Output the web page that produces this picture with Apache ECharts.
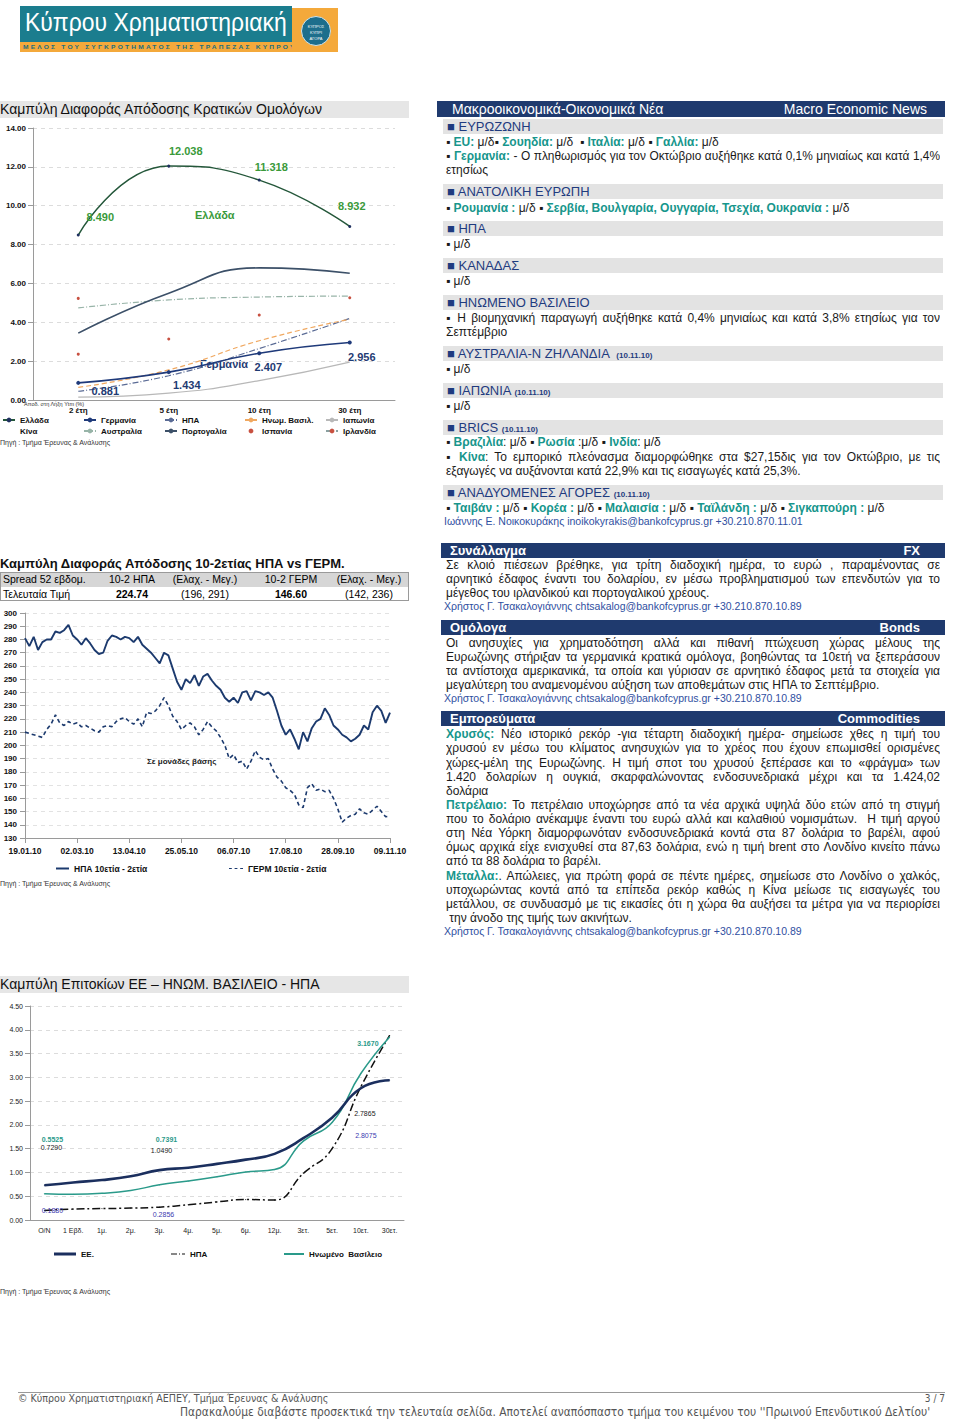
<!DOCTYPE html>
<html><head><meta charset="utf-8">
<script src="https://cdn.jsdelivr.net/npm/echarts/dist/echarts.min.js"></script>
<style>
body{margin:0;background:#fff;font-family:'Liberation Sans',Arial,sans-serif;}
#page{position:relative;width:960px;height:1420px;overflow:hidden;background:#fff;}
.a{position:absolute;white-space:nowrap;}
.gbar{position:absolute;left:443px;width:500px;height:15px;background:#e3e3e3;color:#1f3b7f;font-size:13px;line-height:15px;padding-left:4px;box-sizing:border-box;white-space:nowrap;}
.gbar small{font-size:8px;font-weight:bold;}
.nbar{position:absolute;left:441px;width:504px;height:15px;background:#1f3a6e;color:#fff;font-size:13px;font-weight:bold;line-height:15px;box-sizing:border-box;padding:0 25px 0 9px;}
.nbar span.r{float:right;}
.ln{position:absolute;left:446px;width:494px;font-size:12px;line-height:14px;height:14px;color:#1a1a1a;white-space:nowrap;}
.j{white-space:normal;text-align:justify;text-align-last:justify;overflow:hidden;}
.t{color:#17968c;font-weight:bold;}
.tb{color:#17968c;font-weight:bold;}
.au{position:absolute;left:444px;font-size:10.5px;line-height:12px;color:#2f4f9f;white-space:nowrap;}
.src{position:absolute;left:0;font-size:7px;color:#333;white-space:nowrap;}
.ttl{position:absolute;left:0;width:409px;height:17px;background:#e6e6e6;font-size:14px;line-height:17px;color:#111;white-space:nowrap;}
.cell{position:absolute;font-size:10.5px;line-height:14px;white-space:nowrap;transform:translateX(-50%);}
.nar{font-family:'Liberation Sans Narrow','DejaVu Sans Condensed',sans-serif;color:#555;}
</style></head>
<body><div id="page">

<!-- logo -->
<div class="a" style="left:20px;top:6px;width:272px;height:36px;background:#1b7d8e;"></div>
<div id="logoTxt" class="a" style="left:25px;top:7px;font-size:26px;line-height:31px;color:#fff;">Κύπρου Χρηματιστηριακή</div>
<div class="a" style="left:20px;top:42px;width:280px;height:10px;background:#f4a93b;"></div>
<div id="logoSub" class="a" style="left:23px;top:43px;font-size:6px;line-height:8px;color:#1b6d7e;letter-spacing:2px;font-weight:bold;">ΜΕΛΟΣ ΤΟΥ ΣΥΓΚΡΟΤΗΜΑΤΟΣ ΤΗΣ ΤΡΑΠΕΖΑΣ ΚΥΠΡΟΥ</div>
<div class="a" style="left:292px;top:8px;width:46px;height:44px;background:#f4a93b;"></div>
<div class="a" style="left:301px;top:16px;width:28px;height:28px;border-radius:50%;background:#1d6e8c;border:1px solid #cfe3ea;color:#fff;font-size:4px;line-height:6px;text-align:center;"><div style="margin-top:7px">ΚΥΠΡΟΣ</div><div>ΚΥΠΡΙ</div><div>ΑΓΟΡΑ</div></div>

<!-- Left column -->
<div class="ttl" style="top:101px;">Καμπύλη Διαφοράς Απόδοσης Κρατικών Ομολόγων</div>
<div id="c1" class="a" style="left:0;top:118px;width:410px;height:318px;"></div>
<div class="src" style="top:439px;">Πηγή : Τμήμα Έρευνας &amp; Ανάλυσης</div>

<div class="a" style="left:0;top:556px;font-size:13px;font-weight:bold;line-height:16px;color:#111;">Καμπύλη Διαφοράς Απόδοσης 10-2ετίας ΗΠΑ vs ΓΕΡΜ.</div>
<div class="a" style="left:0;top:572px;width:407px;height:14px;background:#d6d6d6;border:1px solid #9a9a9a;"></div>
<div class="a" style="left:0;top:587px;width:407px;height:13px;background:#fff;border:1px solid #9a9a9a;border-top:none;"></div>
<div class="a" style="left:3px;top:572px;font-size:10.5px;line-height:15px;">Spread 52 εβδομ.</div>
<div class="cell" style="left:132px;top:572px;line-height:15px;">10-2 ΗΠΑ</div>
<div class="cell" style="left:205px;top:572px;line-height:15px;">(Ελαχ. - Μεγ.)</div>
<div class="cell" style="left:291px;top:572px;line-height:15px;">10-2 ΓΕΡΜ</div>
<div class="cell" style="left:369px;top:572px;line-height:15px;">(Ελαχ. - Μεγ.)</div>
<div class="a" style="left:3px;top:587px;font-size:10.5px;line-height:14px;">Τελευταία Τιμή</div>
<div class="cell" style="left:132px;top:587px;font-weight:bold;">224.74</div>
<div class="cell" style="left:205px;top:587px;">(196, 291)</div>
<div class="cell" style="left:291px;top:587px;font-weight:bold;">146.60</div>
<div class="cell" style="left:369px;top:587px;">(142, 236)</div>
<div id="c2" class="a" style="left:0;top:603px;width:410px;height:272px;"></div>
<div class="src" style="top:880px;">Πηγή : Τμήμα Έρευνας &amp; Ανάλυσης</div>

<div class="ttl" style="top:976px;">Καμπύλη Επιτοκίων ΕΕ – ΗΝΩΜ. ΒΑΣΙΛΕΙΟ - ΗΠΑ</div>
<div id="c3" class="a" style="left:0;top:995px;width:410px;height:270px;"></div>
<div class="src" style="top:1288px;">Πηγή : Τμήμα Έρευνας &amp; Ανάλυσης</div>

<!-- Right column: macro news -->
<div class="a" style="left:437px;top:101px;width:508px;height:16px;background:#1f3a6e;color:#fff;font-size:14px;line-height:16px;box-sizing:border-box;padding:0 18px 0 15px;"><span>Μακροοικονομικά-Οικονομικά Νέα</span><span style="float:right">Macro Economic News</span></div>
<div class="gbar" style="top:119px;">■ ΕΥΡΩΖΩΝΗ</div>
<div class="ln" style="top:135px;">▪ <span class="tb">EU:</span> μ/δ▪ <span class="tb">Σουηδία:</span> μ/δ &nbsp;▪ <span class="tb">Ιταλία:</span> μ/δ ▪ <span class="tb">Γαλλία:</span> μ/δ</div>
<div class="ln j" style="top:149px;">▪ <span class="tb">Γερμανία:</span> - Ο πληθωρισμός για τον Οκτώβριο αυξήθηκε κατά 0,1% μηνιαίως και κατά 1,4%</div>
<div class="ln" style="top:163px;">ετησίως</div>
<div class="gbar" style="top:184px;">■ ΑΝΑΤΟΛΙΚΗ ΕΥΡΩΠΗ</div>
<div class="ln" style="top:201px;">▪ <span class="tb">Ρουμανία :</span> μ/δ ▪ <span class="tb">Σερβία, Βουλγαρία, Ουγγαρία, Τσεχία, Ουκρανία :</span> μ/δ</div>
<div class="gbar" style="top:221px;">■ ΗΠΑ</div>
<div class="ln" style="top:237px;">▪ μ/δ</div>
<div class="gbar" style="top:258px;">■ ΚΑΝΑΔΑΣ</div>
<div class="ln" style="top:274px;">▪ μ/δ</div>
<div class="gbar" style="top:295px;">■ ΗΝΩΜΕΝΟ ΒΑΣΙΛΕΙΟ</div>
<div class="ln j" style="top:311px;">▪ Η βιομηχανική παραγωγή αυξήθηκε κατά 0,4% μηνιαίως και κατά 3,8% ετησίως για τον</div>
<div class="ln" style="top:325px;">Σεπτέμβριο</div>
<div class="gbar" style="top:346px;">■ ΑΥΣΤΡΑΛΙΑ-Ν ΖΗΛΑΝΔΙΑ &nbsp;<small>(10.11.10)</small></div>
<div class="ln" style="top:362px;">▪ μ/δ</div>
<div class="gbar" style="top:383px;">■ ΙΑΠΩΝΙΑ <small>(10.11.10)</small></div>
<div class="ln" style="top:399px;">▪ μ/δ</div>
<div class="gbar" style="top:420px;">■ BRICS <small>(10.11.10)</small></div>
<div class="ln" style="top:435px;">▪ <span class="tb">Βραζιλία</span>: μ/δ ▪ <span class="tb">Ρωσία</span> :μ/δ ▪ <span class="tb">Ινδία</span>: μ/δ</div>
<div class="ln j" style="top:450px;">▪ <span class="tb">Κίνα</span>: Το εμπορικό πλεόνασμα διαμορφώθηκε στα $27,15δις για τον Οκτώβριο, με τις</div>
<div class="ln" style="top:464px;">εξαγωγές να αυξάνονται κατά 22,9% και τις εισαγωγές κατά 25,3%.</div>
<div class="gbar" style="top:485px;">■ ΑΝΑΔΥΟΜΕΝΕΣ ΑΓΟΡΕΣ <small>(10.11.10)</small></div>
<div class="ln" style="top:501px;">▪ <span class="tb">Ταιβάν :</span> μ/δ ▪ <span class="tb">Κορέα :</span> μ/δ ▪ <span class="tb">Μαλαισία :</span> μ/δ ▪ <span class="tb">Ταϊλάνδη :</span> μ/δ ▪ <span class="tb">Σιγκαπούρη :</span> μ/δ</div>
<div class="au" style="top:515px;">Ιωάννης Ε. Νοικοκυράκης inoikokyrakis@bankofcyprus.gr +30.210.870.11.01</div>

<!-- FX -->
<div class="nbar" style="top:543px;">Συνάλλαγμα<span class="r">FX</span></div>
<div class="ln j" style="top:558px;">Σε κλοιό πιέσεων βρέθηκε, για τρίτη διαδοχική ημέρα, το ευρώ , παραμένοντας σε</div>
<div class="ln j" style="top:572px;">αρνητικό έδαφος έναντι του δολαρίου, εν μέσω προβληματισμού των επενδυτών για το</div>
<div class="ln" style="top:586px;">μέγεθος του ιρλανδικού και πορτογαλικού χρέους.</div>
<div class="au" style="top:600px;">Χρήστος Γ. Τσακαλογιάννης chtsakalog@bankofcyprus.gr +30.210.870.10.89</div>

<!-- Bonds -->
<div class="nbar" style="top:620px;">Ομόλογα<span class="r">Bonds</span></div>
<div class="ln j" style="top:636px;">Οι ανησυχίες για χρηματοδότηση αλλά και πιθανή πτώχευση χώρας μέλους της</div>
<div class="ln j" style="top:650px;">Ευρωζώνης στήριξαν τα γερμανικά κρατικά ομόλογα, βοηθώντας τα 10ετή να ξεπεράσουν</div>
<div class="ln j" style="top:664px;">τα αντίστοιχα αμερικανικά, τα οποία και γύρισαν σε αρνητικό έδαφος μετά τα στοιχεία για</div>
<div class="ln" style="top:678px;">μεγαλύτερη του αναμενομένου αύξηση των αποθεμάτων στις ΗΠΑ το Σεπτέμβριο.</div>
<div class="au" style="top:692px;">Χρήστος Γ. Τσακαλογιάννης chtsakalog@bankofcyprus.gr +30.210.870.10.89</div>

<!-- Commodities -->
<div class="nbar" style="top:711px;">Εμπορεύματα<span class="r">Commodities</span></div>
<div class="ln j" style="top:727px;"><span class="t">Χρυσός:</span> Νέο ιστορικό ρεκόρ -για τέταρτη διαδοχική ημέρα- σημείωσε χθες η τιμή του</div>
<div class="ln j" style="top:741px;">χρυσού εν μέσω του κλίματος ανησυχιών για το χρέος που έχουν επωμισθεί ορισμένες</div>
<div class="ln j" style="top:756px;">χώρες-μέλη της Ευρωζώνης. Η τιμή σποτ του χρυσού ξεπέρασε και το «φράγμα» των</div>
<div class="ln j" style="top:770px;">1.420 δολαρίων η ουγκιά, σκαρφαλώνοντας ενδοσυνεδριακά μέχρι και τα 1.424,02</div>
<div class="ln" style="top:784px;">δολάρια</div>
<div class="ln j" style="top:798px;"><span class="t">Πετρέλαιο:</span> Το πετρέλαιο υποχώρησε από τα νέα αρχικά υψηλά δύο ετών από τη στιγμή</div>
<div class="ln j" style="top:812px;">που το δολάριο ανέκαμψε έναντι του ευρώ αλλά και καλαθιού νομισμάτων. &nbsp;Η τιμή αργού</div>
<div class="ln j" style="top:826px;">στη Νέα Υόρκη διαμορφωνόταν ενδοσυνεδριακά κοντά στα 87 δολάρια το βαρέλι, αφού</div>
<div class="ln j" style="top:840px;">όμως αρχικά είχε ενισχυθεί στα 87,63 δολάρια, ενώ η τιμή brent στο Λονδίνο κινείτο πάνω</div>
<div class="ln" style="top:854px;">από τα 88 δολάρια το βαρέλι.</div>
<div class="ln j" style="top:869px;"><span class="t">Μέταλλα:</span>. Απώλειες, για πρώτη φορά σε πέντε ημέρες, σημείωσε στο Λονδίνο ο χαλκός,</div>
<div class="ln j" style="top:883px;">υποχωρώντας κοντά από τα επίπεδα ρεκόρ καθώς η Κίνα μείωσε τις εισαγωγές του</div>
<div class="ln j" style="top:897px;">μετάλλου, σε συνδυασμό με τις εικασίες ότι η χώρα θα αυξήσει τα μέτρα για να περιορίσει</div>
<div class="ln" style="top:911px;">&nbsp;την άνοδο της τιμής των ακινήτων.</div>
<div class="au" style="top:925px;">Χρήστος Γ. Τσακαλογιάννης chtsakalog@bankofcyprus.gr +30.210.870.10.89</div>

<!-- footer -->
<div class="a" style="left:18px;top:1392px;width:927px;height:1px;background:#999;"></div>
<div id="foot1" class="a nar" style="left:18px;top:1393px;font-size:10px;line-height:12px;">© Κύπρου Χρηματιστηριακή ΑΕΠΕΥ, Τμήμα Έρευνας &amp; Ανάλυσης</div>
<div class="a nar" style="left:920px;top:1393px;width:25px;text-align:right;font-size:10px;line-height:12px;">3 / 7</div>
<div id="foot2" class="a nar" style="left:180px;top:1405px;font-size:12.5px;line-height:14px;">Παρακαλούμε διαβάστε προσεκτικά την τελευταία σελίδα. Αποτελεί αναπόσπαστο τμήμα του κειμένου του ''Πρωινού Επενδυτικού Δελτίου'</div>

</div>
<script>
// ---------- Chart 1: government bond yield curves ----------
const c1Categories = ['2 έτη', '5 έτη', '10 έτη', '30 έτη'];
const c1Greece    = [8.490, 12.038, 11.318, 8.932];
const c1Germany   = [0.881, 1.434, 2.407, 2.956];
const c1USA       = [0.45, 1.25, 2.65, 4.20];
const c1UK        = [0.65, 1.55, 3.05, 4.16];
const c1Japan     = [0.15, 0.35, 1.00, 1.95];
const c1China     = [null, null, null, null];
const c1Australia = [4.74, 5.15, 5.30, 5.35];
const c1Portugal  = [3.44, 5.50, 6.80, 6.52];
const c1Spain     = [2.36, 3.14, 4.37, 5.26];
const c1Ireland   = [5.23, null, null, null];
const c1LegendNames = ['Ελλάδα', 'Γερμανία', 'ΗΠΑ', 'Ηνωμ. Βασιλ.', 'Ιαπωνία',
                       'Κίνα', 'Αυστραλία', 'Πορτογαλία', 'Ισπανία', 'Ιρλανδία'];

// ---------- Chart 2: 10y-2y spread USA vs Germany ----------
const c2Dates = ['19.01.10','22.01.10','26.01.10','29.01.10',
 '02.02.10','05.02.10','09.02.10','12.02.10','16.02.10','19.02.10','23.02.10','26.02.10',
 '02.03.10','05.03.10','09.03.10','12.03.10','16.03.10','19.03.10','23.03.10','26.03.10','30.03.10',
 '02.04.10','06.04.10','09.04.10','13.04.10','16.04.10','20.04.10','23.04.10','27.04.10','30.04.10',
 '04.05.10','07.05.10','11.05.10','14.05.10','18.05.10','21.05.10','25.05.10','28.05.10',
 '01.06.10','04.06.10','08.06.10','11.06.10','15.06.10','18.06.10','22.06.10','25.06.10','29.06.10',
 '02.07.10','06.07.10','09.07.10','13.07.10','16.07.10','20.07.10','23.07.10','27.07.10','30.07.10',
 '03.08.10','06.08.10','10.08.10','13.08.10','17.08.10','20.08.10','24.08.10','27.08.10','31.08.10',
 '03.09.10','07.09.10','10.09.10','14.09.10','17.09.10','21.09.10','24.09.10','28.09.10',
 '01.10.10','05.10.10','08.10.10','12.10.10','15.10.10','19.10.10','22.10.10','26.10.10','29.10.10',
 '02.11.10','05.11.10','09.11.10'];
const c2USA = [281,275,282,272,278,280,280,286,285,287,
 291,283,280,276,281,277,272,269,270,279,
 283,282,280,282,281,278,282,276,273,270,
 266,262,270,268,258,248,242,250,247,253,
 245,252,254,249,245,242,236,233,236,232,
 240,241,234,241,240,238,240,236,226,215,
 208,212,205,197,210,203,213,218,220,228,
 223,215,212,208,206,203,205,208,215,212,
 225,230,226,217,224.74];
const c2GER = [210,209,208,207,206,212,216,223,217,215,
 218,216,217,214,215,213,211,210,214,215,
 214,218,220,221,218,216,220,214,225,224,
 226,230,236,230,222,218,212,215,217,214,
 208,212,218,214,211,206,200,190,193,187,
 188,182,188,196,191,189,190,182,176,173,
 168,166,163,155,153,168,171,166,167,165,
 166,160,152,142,145,147,148,152,149,148,
 151,154,150,146,146.60];
const c2Names = ['ΗΠΑ 10ετία - 2ετία', 'ΓΕΡΜ 10ετία - 2ετία'];

// ---------- Chart 3: money market / yield curves EU-UK-US ----------
const c3Categories = ['O/N','1 Εβδ.','1μ.','2μ.','3μ.','4μ.','5μ.','6μ.','12μ.','3ετ.','5ετ.','10ετ.','30ετ.'];
const c3EU = [0.729, 0.79, 0.84, 0.92, 1.049, 1.10, 1.18, 1.27, 1.39, 1.72, 2.15, 2.77, 2.94];
const c3US = [0.20, 0.23, 0.24, 0.25, 0.27, 0.32, 0.38, 0.43, 0.42, 0.98, 1.50, 2.80, 3.88];
const c3UK = [0.5525, 0.54, 0.56, 0.62, 0.7391, 0.82, 0.91, 1.01, 1.06, 1.66, 2.05, 3.08, 3.85];
const c3Names = ['ΕΕ.', 'ΗΠΑ', 'Ηνωμένο  Βασίλειο'];
const c3NotesEU = {0: '0.7290', 4: '1.0490', 11: '2.7865'};
const c3NotesUS = {0: '0.1880', 4: '0.2856', 11: '2.8075'};
const c3NotesUK = {0: '0.5525', 4: '0.7391', 11: '3.1670'};

const FF = "'Liberation Sans', Arial, sans-serif";

// fit helpers for page text
function fitX(id, w) {
  const el = document.getElementById(id);
  const s = w / el.offsetWidth;
  el.style.transformOrigin = '0 0';
  el.style.transform = 'scaleX(' + s + ')';
}
fitX('logoTxt', 262);
fitX('logoSub', 274);
fitX('foot2', 750);
fitX('foot1', 310);
document.querySelectorAll('.ln.j').forEach(el => {
  let fs = 12;
  while (el.scrollHeight > 16 && fs > 9) { fs -= 0.1; el.style.fontSize = fs + 'px'; }
});

// ===== Chart 1 =====
(function(){
  const ch = echarts.init(document.getElementById('c1'), null, {renderer: 'svg'});
  const grOff = [[22,-18],[17,-15],[12,-13],[2,-20]];
  const deOff = [[27,8],[18,13],[9,14],[12,14]];
  const withLabels = (vals, offs, color) => vals.map((v,i) => ({value: v, label: {show: true, position: 'inside', offset: offs[i], formatter: p => p.value.toFixed(3), color: color, fontSize: 11, fontWeight: 'bold', fontFamily: FF}}));
  const lg = {fontSize: 8, fontWeight: 'bold', color: '#111', fontFamily: FF};
  const colLeft = [2, 83, 164, 244, 325];
  const legends = c1LegendNames.map((n, i) => ({
    data: [n], left: colLeft[i % 5], top: i < 5 ? 298 : 309, itemWidth: 12, itemHeight: 6,
    selectedMode: false, textStyle: lg, padding: 0
  }));
  const line = (name, data, color, type, width, extra) => Object.assign({
    name, type: 'line', data, smooth: true, showSymbol: false, symbol: 'none',
    lineStyle: {color, type, width}, itemStyle: {color}, z: 2
  }, extra || {});
  ch.setOption({
    animation: false,
    textStyle: {fontFamily: FF},
    grid: {left: 33, right: 15, top: 10, height: 272},
    legend: legends,
    xAxis: {type: 'category', data: c1Categories,
      axisLine: {lineStyle: {color: '#9a9a9a'}}, axisTick: {lineStyle: {color: '#9a9a9a'}},
      axisLabel: {fontSize: 8, fontWeight: 'bold', color: '#111', margin: 6}},
    yAxis: {type: 'value', min: 0, max: 14, interval: 2,
      axisLine: {show: true, lineStyle: {color: '#9a9a9a'}}, axisTick: {show: true, lineStyle: {color: '#9a9a9a'}},
      axisLabel: {formatter: v => v.toFixed(2), fontSize: 8, fontWeight: 'bold', color: '#111', margin: 7},
      splitLine: {lineStyle: {color: '#dcdcdc', type: [4, 4]}}},
    graphic: [
      {type: 'text', left: 195, top: 91, style: {text: 'Ελλάδα', fill: '#3a9a3a', font: "bold 11px 'Liberation Sans'"}},
      {type: 'text', left: 200, top: 240, style: {text: 'Γερμανία', fill: '#1f3b73', font: "bold 11px 'Liberation Sans'"}},
      {type: 'text', left: 24, top: 283, style: {text: 'Αποδ. στη Λήξη Ytm (%)', fill: '#333', font: "5.5px 'Liberation Sans'"}}
    ],
    series: [
      line('Ελλάδα', withLabels(c1Greece, grOff, '#3a9a3a'), '#24573a', 'solid', 1.5, {showSymbol: true, symbol: 'circle', symbolSize: 3, itemStyle: {color: '#1f3060'}, z: 5}),
      line('Γερμανία', withLabels(c1Germany, deOff, '#1f3b73'), '#1f3a7a', 'solid', 1.6, {showSymbol: true, symbol: 'circle', symbolSize: 4, itemStyle: {color: '#1f3a7a'}, z: 5}),
      line('ΗΠΑ', c1USA, '#5a6b95', [6, 2, 1, 2], 1.2),
      line('Ηνωμ. Βασιλ.', c1UK, '#f0a860', [5, 3], 1.2),
      line('Ιαπωνία', c1Japan, '#b8b8b8', 'solid', 1.2),
      line('Κίνα', c1China, 'rgba(0,0,0,0)', 'solid', 1),
      line('Αυστραλία', c1Australia, '#98b4a8', [6, 2, 1, 2], 1.2),
      line('Πορτογαλία', c1Portugal, '#3c5068', 'solid', 1.6),
      {name: 'Ισπανία', type: 'line', data: c1Spain, showSymbol: true, symbol: 'circle', symbolSize: 3,
        itemStyle: {color: '#c85040'}, lineStyle: {opacity: 0, color: '#c85040'}},
      {name: 'Ιρλανδία', type: 'line', data: c1Ireland, showSymbol: true, symbol: 'circle', symbolSize: 3,
        itemStyle: {color: '#c85040'}, lineStyle: {color: '#8aa0a0', type: [5, 2, 1, 2], width: 1.2}}
    ]
  });
})();

// ===== Chart 2 =====
(function(){
  const ch = echarts.init(document.getElementById('c2'), null, {renderer: 'svg'});
  const lg = {fontSize: 8.5, fontWeight: 'bold', color: '#111', fontFamily: FF};
  ch.setOption({
    animation: false,
    textStyle: {fontFamily: FF},
    grid: {left: 25, right: 20, top: 10, height: 225},
    legend: [
      {data: [{name: c2Names[0], icon: 'rect'}], left: 51, top: 256, itemWidth: 13, itemHeight: 2, selectedMode: false, textStyle: lg},
      {data: [{name: c2Names[1], icon: 'path://M0,0h3v1h-3z M6,0h3v1h-3z M12,0h3v1h-3z'}], left: 224, top: 256, itemWidth: 14, itemHeight: 2, selectedMode: false, textStyle: lg}
    ],
    xAxis: {type: 'category', data: c2Dates, boundaryGap: false,
      axisLine: {lineStyle: {color: '#9a9a9a'}},
      axisTick: {interval: 11, lineStyle: {color: '#9a9a9a'}},
      axisLabel: {interval: 11, fontSize: 8.5, fontWeight: 'bold', color: '#111', margin: 8}},
    yAxis: {type: 'value', min: 130, max: 300, interval: 10,
      axisLine: {show: true, lineStyle: {color: '#9a9a9a'}}, axisTick: {show: true, lineStyle: {color: '#9a9a9a'}},
      axisLabel: {fontSize: 8, fontWeight: 'bold', color: '#111', margin: 8},
      splitLine: {lineStyle: {color: '#e2e2e2', type: [4, 4]}}},
    graphic: [
      {type: 'text', left: 147, top: 154, style: {text: 'Σε μονάδες βάσης', fill: '#222', font: "bold 8px 'Liberation Sans'"}}
    ],
    series: [
      {name: c2Names[0], type: 'line', data: c2USA, showSymbol: false, symbol: 'none',
        lineStyle: {color: '#1c3a6e', width: 1.9}, itemStyle: {color: '#1c3a6e'}},
      {name: c2Names[1], type: 'line', data: c2GER, showSymbol: false, symbol: 'none',
        lineStyle: {color: '#1c3a6e', width: 1.6, type: [4, 3]}, itemStyle: {color: '#1c3a6e'}}
    ]
  });
})();

// ===== Chart 3 =====
(function(){
  const ch = echarts.init(document.getElementById('c3'), null, {renderer: 'svg'});
  const lg = {fontSize: 8, fontWeight: 'bold', color: '#111', fontFamily: FF};
  const offEU = {0: [7,-38], 4: [2,-20], 11: [4,25]};
  const offUS = {0: [8,0], 4: [4,7], 11: [5,49]};
  const offUK = {0: [8,-54], 4: [7,-45], 11: [7,-30]};
  const noted = (vals, notes, offs, color, bold) => vals.map((v,i) => notes[i] ? {value: v, label: {show: true, position: 'inside', offset: offs[i], formatter: notes[i], color: color, fontSize: 7, fontWeight: bold ? 'bold' : 'normal', fontFamily: FF}} : v);
  ch.setOption({
    animation: false,
    textStyle: {fontFamily: FF},
    grid: {left: 30, width: 374, top: 11, height: 214},
    legend: [
      {data: [{name: c3Names[0], icon: 'rect'}], left: 49, top: 250, itemWidth: 22, itemHeight: 3, selectedMode: false, textStyle: lg},
      {data: [{name: c3Names[1], icon: 'path://M0,0h6v1h-6z M8,0h1v1h-1z M11,0h3v1h-3z'}], left: 166, top: 250, itemWidth: 14, itemHeight: 2, selectedMode: false, textStyle: lg},
      {data: [{name: c3Names[2], icon: 'rect'}], left: 279, top: 250, itemWidth: 20, itemHeight: 2, selectedMode: false, textStyle: lg}
    ],
    xAxis: {type: 'category', data: c3Categories,
      axisLine: {lineStyle: {color: '#9a9a9a'}}, axisTick: {lineStyle: {color: '#9a9a9a'}},
      axisLabel: {fontSize: 7, color: '#222', margin: 7, interval: 0}},
    yAxis: {type: 'value', min: 0, max: 4.5, interval: 0.5,
      axisLine: {show: true, lineStyle: {color: '#9a9a9a'}}, axisTick: {show: true, lineStyle: {color: '#9a9a9a'}},
      axisLabel: {formatter: v => v.toFixed(2), fontSize: 7, color: '#222', margin: 7},
      splitLine: {lineStyle: {color: '#dcdcdc', type: [4, 4]}}},
    series: [
      {name: c3Names[0], type: 'line', smooth: true, data: noted(c3EU, c3NotesEU, offEU, '#222', false),
        symbol: 'circle', symbolSize: 1, showSymbol: true,
        lineStyle: {color: '#1b2f5e', width: 2.6}, itemStyle: {color: '#1b2f5e'}, z: 4},
      {name: c3Names[1], type: 'line', smooth: true, data: noted(c3US, c3NotesUS, offUS, '#3b3bb0', false),
        symbol: 'circle', symbolSize: 1, showSymbol: true,
        lineStyle: {color: '#111', width: 1.5, type: [8, 3, 2, 3]}, itemStyle: {color: '#111'}, z: 3},
      {name: c3Names[2], type: 'line', smooth: true, data: noted(c3UK, c3NotesUK, offUK, '#2a9a8a', true),
        symbol: 'circle', symbolSize: 1, showSymbol: true,
        lineStyle: {color: '#2a9a8a', width: 1.5}, itemStyle: {color: '#2a9a8a'}, z: 3}
    ]
  });
})();
</script>
</body></html>
